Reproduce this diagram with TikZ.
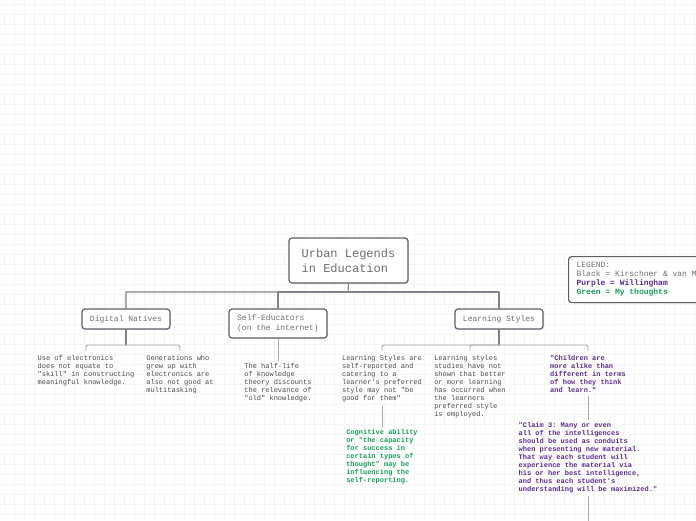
\documentclass[tikz,border=0pt]{standalone}
\usepackage{fontspec}
\setmonofont{Liberation Mono}
\usetikzlibrary{shadows}

\definecolor{boxline}{HTML}{5C6168}
\definecolor{linkgray}{HTML}{7F848B}
\definecolor{sublink}{HTML}{A3A7AD}
\definecolor{topictext}{HTML}{6E6E6E}
\definecolor{notetext}{HTML}{4A4A4A}
\definecolor{willpurple}{HTML}{5B2D8E}
\definecolor{mygreen}{HTML}{18A058}
\definecolor{gridline}{HTML}{F5F5F5}

\begin{document}
\begin{tikzpicture}[x=1pt, y=-1pt, line cap=round, line join=round,
	topic/.style={draw=boxline, line width=1.2pt, rounded corners=3pt, fill=white,
		text=topictext, font=\ttfamily\fontsize{8}{10}\selectfont, align=left,
		drop shadow={opacity=0.25, shadow xshift=0.8pt, shadow yshift=-0.8pt}},
	note/.style={text=notetext, font=\ttfamily\fontsize{7}{8}\selectfont, align=left,
		anchor=north, inner sep=2pt},
	willnote/.style={note, text=willpurple, font=\ttfamily\bfseries\fontsize{7}{8}\selectfont},
	mynote/.style={note, text=mygreen, font=\ttfamily\bfseries\fontsize{7}{8}\selectfont},
	link/.style={draw=linkgray, line width=1.1pt},
	twig/.style={draw=sublink, line width=0.9pt, rounded corners=2pt}]
		
		% Canvas and faint grid
		\useasboundingbox (0,0) rectangle (696,520);
		\clip (0,0) rectangle (696,520);
		\fill[white] (0,0) rectangle (696,520);
		\foreach \gx in {4,14,...,694} \draw[gridline, line width=0.5pt] (\gx,0) -- (\gx,520);
		\foreach \gy in {4,14,...,514} \draw[gridline, line width=0.5pt] (0,\gy) -- (696,\gy);
		
		% Central topic
		\node[topic, minimum width=119pt, minimum height=45pt, font=\ttfamily\fontsize{12}{15}\selectfont]
			(root) at (348.5,260.5) {Urban Legends\\in Education};
		
		% Main branches
		\node[topic, minimum width=88pt, minimum height=20pt] (dn) at (126,319) {Digital Natives};
		\node[topic, minimum width=98pt, minimum height=29pt] (se) at (278,323.5) {Self-Educators\\(on the internet)};
		\node[topic, minimum width=88pt, minimum height=20pt] (ls) at (499,319) {Learning Styles};
		
		% Legend (runs off the right edge)
		\node[topic, anchor=north west, minimum height=46pt, inner xsep=8pt, font=\ttfamily\fontsize{8}{9}\selectfont]
			(legend) at (568,256) {LEGEND:\\Black = Kirschner \& van Merriënboer\\
			\textcolor{willpurple}{\bfseries Purple = Willingham}\\
			\textcolor{mygreen}{\bfseries Green = My thoughts}};
		
		% Notes under Digital Natives
		\node[note] (dnA) at (86,353) {Use of electronics\\does not equate to\\"skill" in constructing\\meaningful knowledge.};
		\node[note] (dnB) at (180,353) {Generations who\\grew up with\\electronics are\\also not good at\\multitasking};
		
		% Note under Self-Educators
		\node[note] (half) at (278,361) {The half-life\\of knowledge\\theory discounts\\the relevance of\\"old" knowledge.};
		
		% Notes under Learning Styles
		\node[note] (lsA) at (382,353) {Learning Styles are\\self-reported and\\catering to a\\learner's preferred\\style may not "be\\good for them"};
		\node[note] (lsB) at (470,353) {Learning styles\\studies have not\\shown that better\\or more learning\\has occurred when\\the learners\\preferred style\\is employed.};
		\node[willnote] (lsC) at (588,353) {"Children are\\more alike than\\different in terms\\of how they think\\and learn."};
		
		% Follow-up notes
		\node[mynote] (cog) at (382,427) {Cognitive ability\\or "the capacity\\for success in\\certain types of\\thought" may be\\influencing the\\self-reporting.};
		\node[willnote] (claim) at (588,420) {"Claim 3: Many or even\\all of the intelligences\\should be used as conduits\\when presenting new material.\\That way each student will\\experience the material via\\his or her best intelligence,\\and thus each student's\\understanding will be maximized."};
		
		% Root to branches
		\coordinate (rootbus) at (348,292);
		\draw[link] (root.south) -- (rootbus) -| (dn.north);
		\draw[link] (rootbus) -| (se.north);
		\draw[link] (rootbus) -| (ls.north);
		
		% Branches to notes
		\coordinate (dnbus) at (126,345);
		\draw[link] (dn.south) -- (dnbus);
		\draw[twig, shorten >=2pt] (dnbus) -| (dnA.north);
		\draw[twig, shorten >=2pt] (dnbus) -| (dnB.north);
		\draw[twig] (se.south) -- (half.north);
		\coordinate (lsbus) at (499,345);
		\draw[link] (ls.south) -- (lsbus);
		\draw[twig, shorten >=2pt] (lsbus) -| (lsA.north);
		\draw[twig, shorten >=2pt] (lsbus) -| (lsB.north);
		\draw[twig, shorten >=2pt] (lsbus) -| (lsC.north);
		
		% Notes to follow-ups
		\coordinate (claimend) at (588,530);
		\draw[twig, shorten <=2pt] (lsA.south) -- (cog.north);
		\draw[twig, shorten <=2pt] (lsC.south) -- (claim.north);
		\draw[twig, shorten <=2pt] (claim.south) -- (claimend);
		
	\end{tikzpicture}
\end{document}
